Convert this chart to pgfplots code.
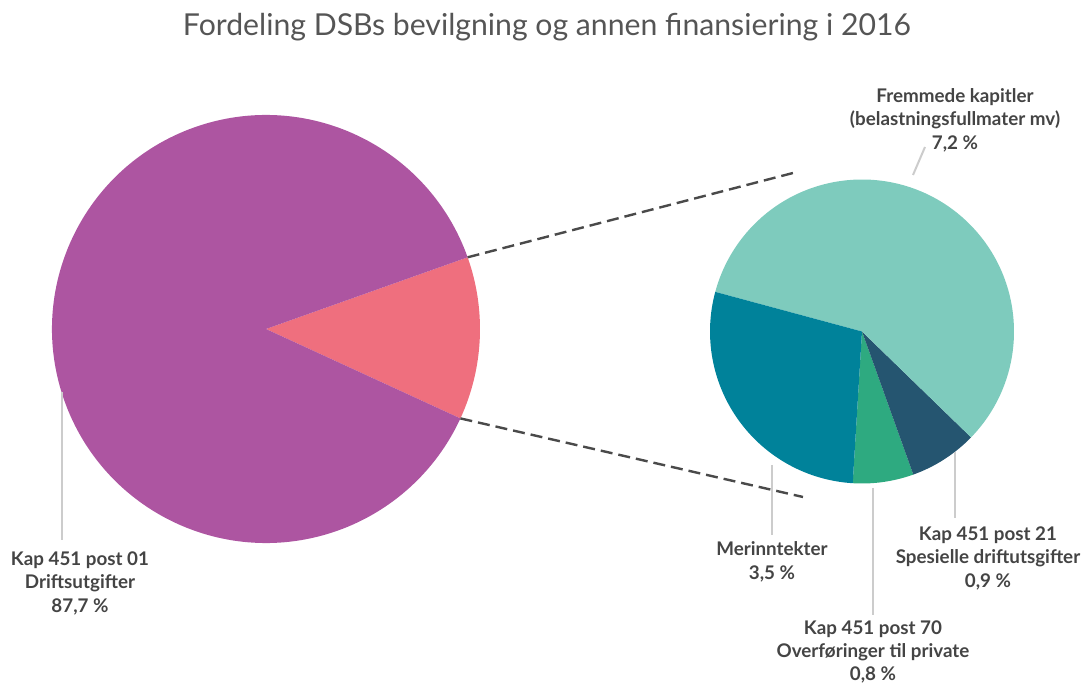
\documentclass[border=0pt]{standalone}
\usepackage{pgfplots}
\pgfplotsset{compat=1.18}
\usepackage{pgfplotstable}
\usepackage{fontspec}
\setmainfont{Lato}
\definecolor{cPurple}{HTML}{AD55A1}
\definecolor{cSalmon}{HTML}{EF6F7E}
\definecolor{cLight}{HTML}{7ECBBD}
\definecolor{cTeal}{HTML}{00829A}
\definecolor{cGreen}{HTML}{2EAA80}
\definecolor{cNavy}{HTML}{255570}
\definecolor{titlegray}{HTML}{555555}
\definecolor{labelgray}{HTML}{444444}
\definecolor{leader}{HTML}{CCCCCC}
\definecolor{dashgray}{HTML}{4A4A4A}
\tikzset{lbl/.style={font=\fontsize{18.8}{23.5}\selectfont\bfseries, text=labelgray, align=center}}

\pgfplotstableread{
label value
Driftsutgifter 87.7
Annen 12.3
}\bigdata
\pgfplotstableread{
label value
Overforinger 0.8
Spesielle 0.9
Fremmede 7.2
Merinntekter 3.5
}\smalldata

\begin{document}
\begin{tikzpicture}
% big pie values
\pgfplotstablegetelem{0}{value}\of\bigdata \pgfmathsetmacro\bA{\pgfplotsretval}
\pgfplotstablegetelem{1}{value}\of\bigdata \pgfmathsetmacro\bB{\pgfplotsretval}
\pgfmathsetmacro\bT{\bA+\bB}
\pgfmathsetmacro\bStart{-24.7}
\pgfmathsetmacro\bMid{\bStart+\bB/\bT*360}
\pgfmathsetmacro\bEnd{\bStart+360}
% small pie values
\pgfplotstablegetelem{0}{value}\of\smalldata \pgfmathsetmacro\sA{\pgfplotsretval}
\pgfplotstablegetelem{1}{value}\of\smalldata \pgfmathsetmacro\sB{\pgfplotsretval}
\pgfplotstablegetelem{2}{value}\of\smalldata \pgfmathsetmacro\sC{\pgfplotsretval}
\pgfplotstablegetelem{3}{value}\of\smalldata \pgfmathsetmacro\sD{\pgfplotsretval}
\pgfmathsetmacro\sT{\sA+\sB+\sC+\sD}
\pgfmathsetmacro\aZ{-93.5}
\pgfmathsetmacro\aA{\aZ+\sA/\sT*360}
\pgfmathsetmacro\aB{\aA+\sB/\sT*360}
\pgfmathsetmacro\aC{\aB+\sC/\sT*360}
\pgfmathsetmacro\aD{\aC+\sD/\sT*360}
\begin{axis}[
  x=1pt, y=1pt,
  xmin=0, xmax=1088, ymin=0, ymax=686,
  axis lines=none, ticks=none, clip=false,
]
\coordinate (SW) at (axis cs:0,0);
\coordinate (NE) at (axis cs:1088,686);
% big pie
\fill[cSalmon] (axis cs:266,357) -- ++(\bStart:214pt) arc[start angle=\bStart, end angle=\bMid, radius=214pt] -- cycle;
\fill[cPurple] (axis cs:266,357) -- ++(\bMid:214pt) arc[start angle=\bMid, end angle=\bEnd, radius=214pt] -- cycle;
% small pie
\fill[cGreen] (axis cs:862,354.5) -- ++(\aZ:152pt) arc[start angle=\aZ, end angle=\aA, radius=152pt] -- cycle;
\fill[cNavy] (axis cs:862,354.5) -- ++(\aA:152pt) arc[start angle=\aA, end angle=\aB, radius=152pt] -- cycle;
\fill[cLight] (axis cs:862,354.5) -- ++(\aB:152pt) arc[start angle=\aB, end angle=\aC, radius=152pt] -- cycle;
\fill[cTeal] (axis cs:862,354.5) -- ++(\aC:152pt) arc[start angle=\aC, end angle=\aD, radius=152pt] -- cycle;
% connectors
\draw[dashgray, line width=2.4pt, dash pattern=on 12pt off 6pt] (axis cs:266,357) ++(\bMid:214pt) -- (axis cs:793,513);
\draw[dashgray, line width=2.4pt, dash pattern=on 12pt off 6pt] (axis cs:266,357) ++(\bStart:214pt) -- (axis cs:803,189);
% leaders
\draw[leader, line width=2pt] (axis cs:62,294) -- (axis cs:62,146);
\draw[leader, line width=2pt] (axis cs:913,511) -- (axis cs:925,539);
\draw[leader, line width=2pt] (axis cs:772,221) -- (axis cs:772,151);
\draw[leader, line width=2pt] (axis cs:873,198) -- (axis cs:873,71);
\draw[leader, line width=2pt] (axis cs:955,234) -- (axis cs:955,168);
% labels
\node[lbl] at (axis cs:80,103) {Kap 451 post 01\\Driftsutgifter\\87,7 \%};
\node[lbl] at (axis cs:955,566) {Fremmede kapitler\\(belastningsfullmater mv)\\7,2 \%};
\node[lbl] at (axis cs:772,124) {Merinntekter\\3,5 \%};
\node[lbl, font=\fontsize{18.8}{23}\selectfont\bfseries] at (axis cs:873,34) {Kap 451 post 70\\Overføringer til private\\0,8 \%};
\node[lbl] at (axis cs:988,128) {Kap 451 post 21\\Spesielle driftutsgifter\\0,9 \%};
% title
\node[font=\fontsize{30.2}{36}\selectfont, text=titlegray] at (axis cs:547,659) {Fordeling DSBs bevilgning og annen finansiering i 2016};
\end{axis}
\pgfresetboundingbox
\path (SW) rectangle (NE);
\end{tikzpicture}
\end{document}
